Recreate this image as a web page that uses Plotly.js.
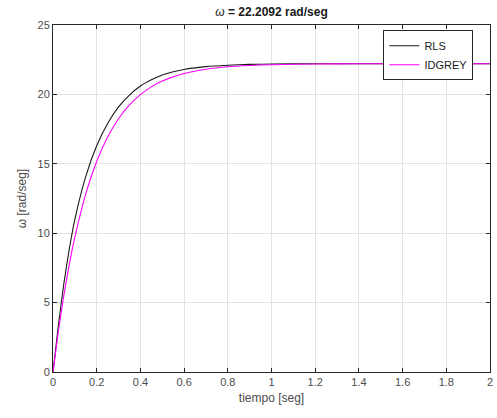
<!DOCTYPE html>
<html>
<head>
<meta charset="utf-8">
<script src="https://cdn.plot.ly/plotly-3.0.1.min.js"></script>
<style>
  html, body { margin: 0; padding: 0; background: #ffffff; }
  #chart { width: 497px; height: 418px; }
</style>
</head>
<body>
<div id="chart"></div>
<script>
// Step response of the estimated motor models (angular speed vs time)
const tiempo = [0, 0.025, 0.05, 0.075, 0.1, 0.15, 0.2, 0.25, 0.3, 0.35, 0.4, 0.45, 0.5,
                0.6, 0.7, 0.8, 0.9, 1.0, 1.2, 1.4, 1.6, 1.8, 2.0];

// RLS-identified model
const omegaRLS = [0, 3.4, 6.4, 8.9, 11.0, 14.1, 16.3, 17.9, 19.1, 19.95, 20.6, 21.05, 21.4,
                  21.8, 22.0, 22.1, 22.16, 22.19, 22.205, 22.209, 22.209, 22.209, 22.209];

// Grey-box (idgrey) model
const omegaIDGREY = [0, 2.97, 5.55, 7.78, 9.71, 12.83, 15.17, 16.93, 18.25, 19.24, 19.98, 20.54, 20.96,
                     21.5, 21.81, 21.99, 22.08, 22.14, 22.19, 22.205, 22.209, 22.209, 22.209];

const seriesNames = ['RLS', 'IDGREY'];
const xTicks = [0, 0.2, 0.4, 0.6, 0.8, 1, 1.2, 1.4, 1.6, 1.8, 2];
const xTickText = ['0', '0.2', '0.4', '0.6', '0.8', '1', '1.2', '1.4', '1.6', '1.8', '2'];
const yTicks = [0, 5, 10, 15, 20, 25];

const FONT = 'Liberation Sans, Arial, Helvetica, sans-serif';
const AXIS_COLOR = '#262626';
const LABEL_COLOR = '#4d4d4d';

const traces = [
  {
    x: tiempo, y: omegaRLS, name: seriesNames[0],
    type: 'scatter', mode: 'lines',
    line: { color: '#1a1a1a', width: 1.1, shape: 'spline', smoothing: 0.6 }
  },
  {
    x: tiempo, y: omegaIDGREY, name: seriesNames[1],
    type: 'scatter', mode: 'lines',
    line: { color: '#ff00ff', width: 1.1, shape: 'spline', smoothing: 0.6 }
  }
];

const axisCommon = {
  showline: true, linecolor: AXIS_COLOR, linewidth: 1,
  mirror: 'ticks', ticks: 'inside', ticklen: 4, tickcolor: AXIS_COLOR, tickwidth: 1,
  showgrid: true, gridcolor: '#e3e3e3', gridwidth: 1,
  zeroline: false,
  tickfont: { family: FONT, size: 11, color: LABEL_COLOR }
};

const layout = {
  width: 497, height: 418,
  margin: { l: 53, r: 7, t: 25, b: 46 },
  paper_bgcolor: '#ffffff', plot_bgcolor: '#ffffff',
  showlegend: true,
  title: {
    text: '<i>ω</i><b> = 22.2092 rad/seg</b>',
    font: { family: FONT, size: 12, color: '#1a1a1a' },
    x: 0.5 + (53 - 7) / 2 / 497, xanchor: 'center',
    y: 1 - 12 / 418, yanchor: 'middle'
  },
  xaxis: Object.assign({}, axisCommon, {
    range: [0, 2],
    tickvals: xTicks, ticktext: xTickText,
    title: { text: 'tiempo [seg]', font: { family: FONT, size: 12, color: LABEL_COLOR }, standoff: 6 }
  }),
  yaxis: Object.assign({}, axisCommon, {
    range: [0, 25],
    tickvals: yTicks,
    title: { text: 'ω [rad/seg]', font: { family: FONT, size: 12, color: LABEL_COLOR }, standoff: 8 }
  }),
  legend: {
    x: 0.962, xanchor: 'right',
    y: 0.985, yanchor: 'top',
    bgcolor: '#ffffff', bordercolor: AXIS_COLOR, borderwidth: 1,
    font: { family: FONT, size: 11, color: '#1a1a1a' },
    tracegroupgap: 0
  }
};

Plotly.newPlot('chart', traces, layout, { staticPlot: true, displayModeBar: false });
</script>
</body>
</html>
